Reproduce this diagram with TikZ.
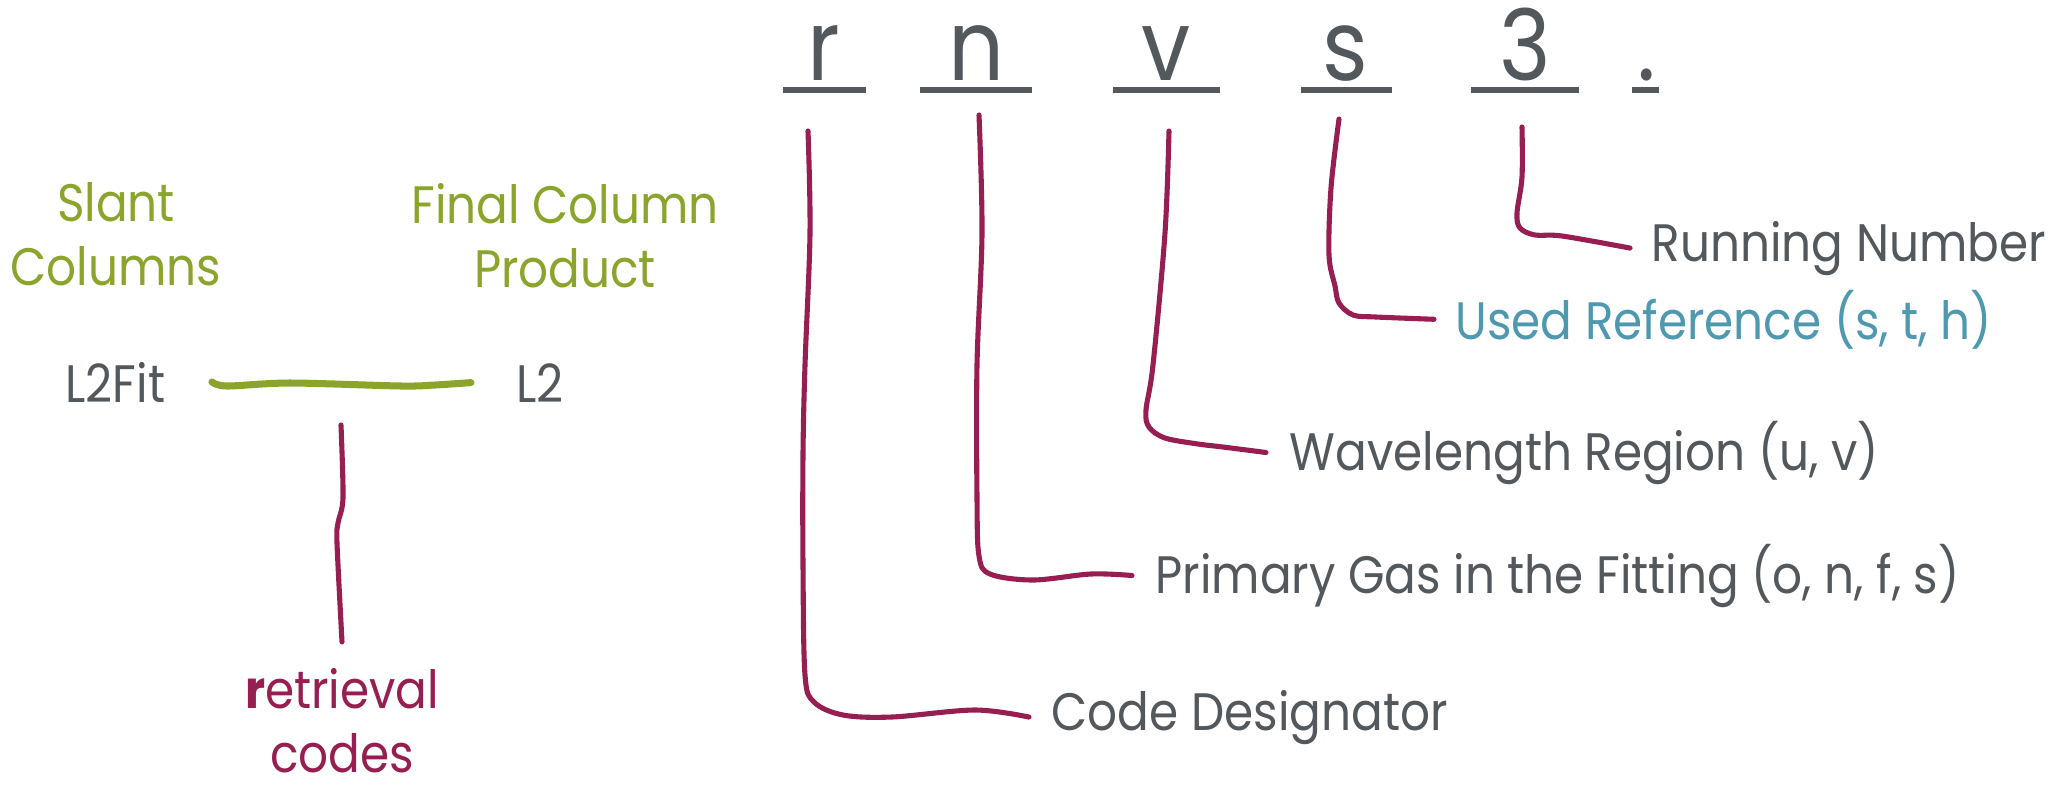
\documentclass[tikz,border=0pt]{standalone}
\usepackage{fontspec}
\setmainfont{Poppins}[FakeStretch=0.89]
\definecolor{ink}{RGB}{83,88,93}
\definecolor{berry}{RGB}{151,30,80}
\definecolor{olive}{RGB}{139,164,44}
\definecolor{teal}{RGB}{78,152,176}
\begin{document}
\begin{tikzpicture}[x=0.1mm,y=-0.1mm,
  lbl/.style={inner sep=0pt, anchor=base west, text=ink, font=\fontsize{15}{18}\selectfont},
  stack/.style={inner sep=0pt, anchor=base, align=center, font=\fontsize{15}{18}\selectfont},
  glyph/.style={inner sep=0pt, anchor=base, text=ink, font=\fontsize{28}{30}\selectfont},
  slot/.style={fill=ink, draw=none},
  conn/.style={draw=berry, line width=1.45pt, line cap=round, line join=round},
  bond/.style={draw=olive, line width=2pt, line cap=round, line join=round}]
\useasboundingbox (0,0) rectangle (2050,790);

% code characters and their slots
\node[glyph] (cr) at (824,80) {r};
\node[glyph] (cn) at (977,80) {n};
\node[glyph] (cv) at (1166,80) {v};
\node[glyph] (cs) at (1345,80) {s};
\node[glyph] (c3) at (1525,80) {3};
\node[glyph] (cdot) at (1647,80) {.};
\fill[slot] (783,87) rectangle (866,93);
\fill[slot] (920,87) rectangle (1032,93);
\fill[slot] (1113,87) rectangle (1220,93);
\fill[slot] (1301,87) rectangle (1392,93);
\fill[slot] (1471,87) rectangle (1579,93);
\fill[slot] (1632,87) rectangle (1659,93);

% field descriptions
\node[lbl] (rn) at (1651,261) {Running Number};
\node[lbl, text=teal] (us) at (1455,339) {Used Reference (s, t, h)};
\node[lbl] (wl) at (1289,470) {Wavelength Region (u, v)};
\node[lbl] (pg) at (1155,593) {Primary Gas in the Fitting (o, n, f, s)};
\node[lbl] (cd) at (1051,730) {Code Designator};

% leader starts below each slot
\coordinate (sr) at (808,131);
\coordinate (sn) at (979,115);
\coordinate (sv) at (1169,131);
\coordinate (ss) at (1339,119);
\coordinate (s3) at (1522,127);

\draw[conn] plot[smooth, tension=0.55] coordinates {(sr) (810,233) (805,365) (803,454) (803,565) (805,675) (814,702) (843,715) (892,717) (975,710) ([xshift=-2.2mm]cd.west)};
\draw[conn] plot[smooth, tension=0.55] coordinates {(sn) (982,233) (977,365) (977,498) (979,556) (990,574) (1033,580) (1091,574) ([xshift=-2.3mm]pg.west)};
\draw[conn] plot[smooth, tension=0.55] coordinates {(sv) (1165,233) (1153,365) (1146,410) (1149,427) (1165,438) (1198,444) (1223,447) ([xshift=-2.3mm]wl.west)};
\draw[conn] plot[smooth, tension=0.55] coordinates {(ss) (1331,188) (1329,255) (1335,286) (1339,303) (1353,315) (1376,317) ([xshift=-2.1mm]us.west)};
\draw[conn] plot[smooth, tension=0.55] coordinates {(s3) (1522,177) (1517,213) (1520,228) (1535,235) (1562,236) ([xshift=-2.1mm]rn.west)};

% left: product levels (base anchor sits on the last line)
\node[stack, text=olive] (slant) at (116,285) {Slant\\Columns};
\node[stack, text=olive] (final) at (565,287) {Final Column\\Product};
\node[lbl] (fit) at (65,402) {L2Fit};
\node[lbl] (l2) at (516,402) {L2};
\draw[bond] plot[smooth, tension=0.5] coordinates {([xshift=4.6mm]fit.east) (227,386) (290,383) (401,386) (435,385) ([xshift=-4.5mm]l2.west)};

\node[stack, text=berry] (ret) at (342,772) {\textbf{r}etrieval\\codes};
\coordinate (rt) at (341,425);
\draw[conn] plot[smooth, tension=0.5] coordinates {(rt) (343,498) (338,523) (337,543) ([yshift=2.6mm]ret.north)};
\end{tikzpicture}
\end{document}
